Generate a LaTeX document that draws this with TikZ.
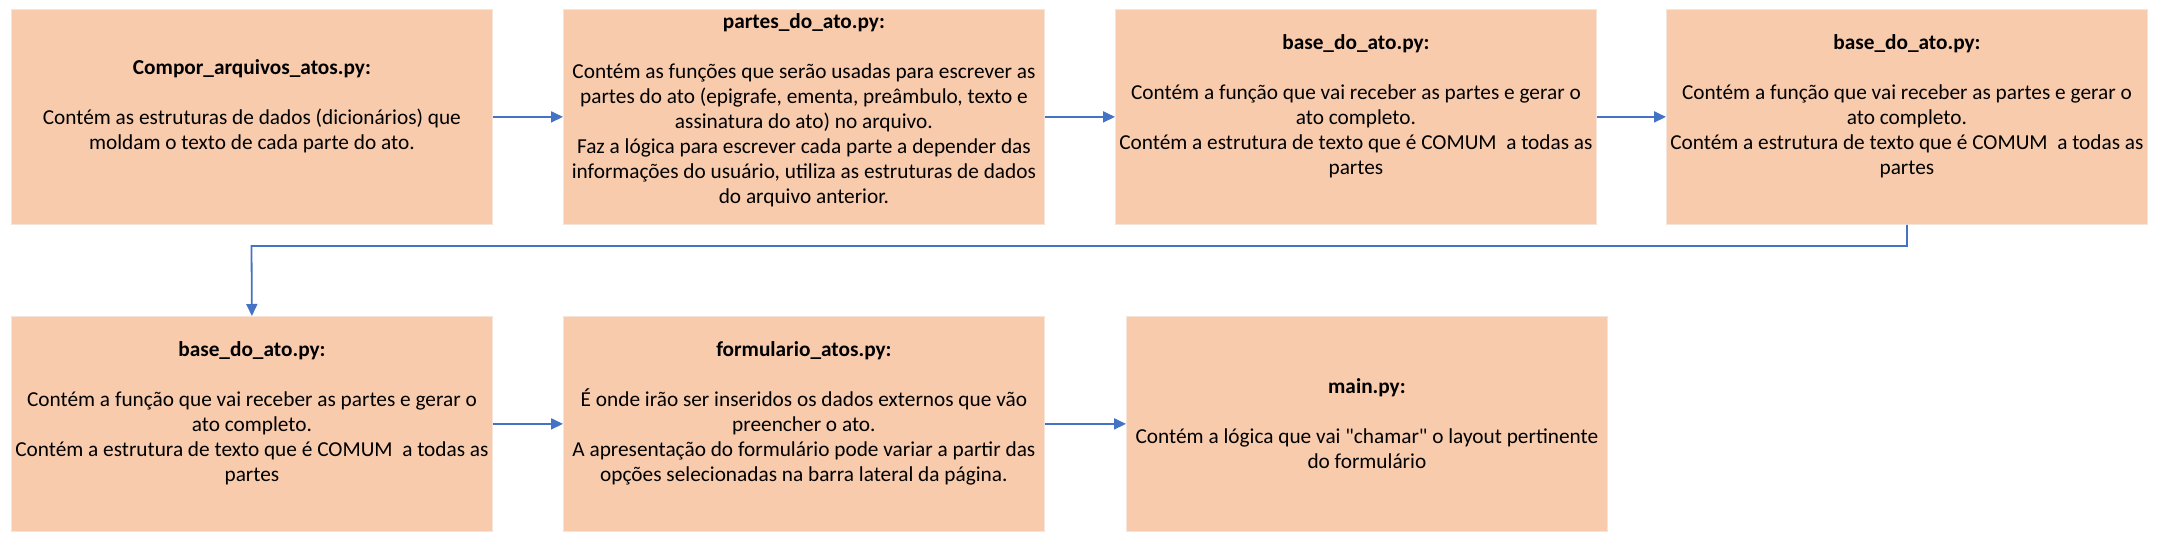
\documentclass[tikz,border=0pt]{standalone}
\usepackage{fontspec}
\setmainfont{Carlito}[Ligatures=TeXOff]
\usetikzlibrary{arrows.meta}
\definecolor{boxfill}{HTML}{F8CBAD}
\definecolor{boxedge}{HTML}{F4E4DA}
\definecolor{arrblue}{HTML}{4472C4}
\tikzset{
  filebox/.style={rectangle, fill=boxfill, draw=boxedge, line width=0.8pt,
    minimum width=481pt, minimum height=215pt, inner sep=0pt,
    align=center, font=\fontsize{21.3}{25}\selectfont, anchor=north west},
  arr/.style={draw=arrblue, line width=1.8pt, -{Triangle[length=12pt,width=11pt]}}
}
\begin{document}
\begin{tikzpicture}[x=1pt,y=1pt]
\useasboundingbox (0,0) rectangle (2163,541);
\node[filebox] (b1) at (11,532) {\textbf{Compor\_arquivos\_atos.py:}\\[25pt]Contém as estruturas de dados (dicionários) que\\moldam o texto de cada parte do ato.\\ \mbox{}};
\node[filebox] (b2) at (563,532) {\textbf{partes\_do\_ato.py:}\\[25pt]Contém as funções que serão usadas para escrever as\\partes do ato (epigrafe, ementa, preâmbulo, texto e\\assinatura do ato) no arquivo.\\Faz a lógica para escrever cada parte a depender das\\informações do usuário, utiliza as estruturas de dados\\do arquivo anterior.\\[-8pt]\mbox{}};
\node[filebox] (b3) at (1115,532) {\textbf{base\_do\_ato.py:}\\[25pt]Contém a função que vai receber as partes e gerar o\\ato completo.\\Contém a estrutura de texto que é COMUM~ a todas as\\partes\\ \mbox{}};
\node[filebox] (b4) at (1666,532) {\textbf{base\_do\_ato.py:}\\[25pt]Contém a função que vai receber as partes e gerar o\\ato completo.\\Contém a estrutura de texto que é COMUM~ a todas as\\partes\\ \mbox{}};
\node[filebox] (b5) at (11,225) {\textbf{base\_do\_ato.py:}\\[25pt]Contém a função que vai receber as partes e gerar o\\ato completo.\\Contém a estrutura de texto que é COMUM~ a todas as\\partes\\ \mbox{}};
\node[filebox] (b6) at (563,225) {\textbf{formulario\_atos.py:}\\[25pt]É onde irão ser inseridos os dados externos que vão\\preencher o ato.\\A apresentação do formulário pode variar a partir das\\opções selecionadas na barra lateral da página.\\ \mbox{}};
\node[filebox] (b7) at (1126,225) {\textbf{main.py:}\\[25pt]Contém a lógica que vai "chamar" o layout pertinente\\do formulário};
\coordinate (turn) at (251.5,295);
\draw[arr] (b1.east) -- (b2.west);
\draw[arr] (b2.east) -- (b3.west);
\draw[arr] (b3.east) -- (b4.west);
\draw[arr] (b4.south) |- (turn) -- (b5.north);
\draw[arr] (b5.east) -- (b6.west);
\draw[arr] (b6.east) -- (b7.west);
\end{tikzpicture}
\end{document}
